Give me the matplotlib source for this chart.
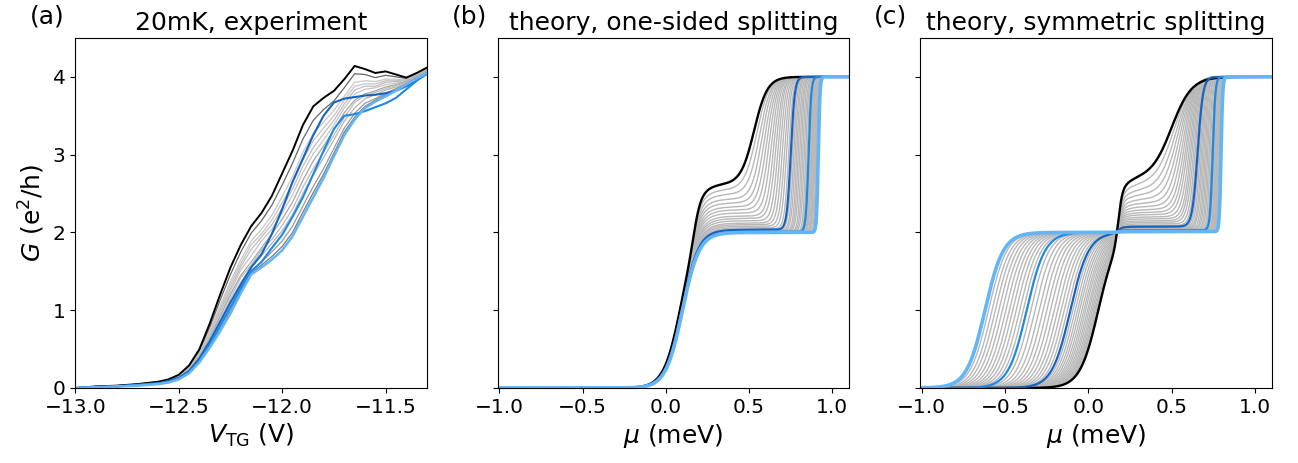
import numpy as np
import matplotlib
matplotlib.use("Agg")
import matplotlib.pyplot as plt

# ---- panel (a): measured curves, G in e^2/h vs top gate voltage
v_tg = [-13.0, -12.9, -12.8, -12.7, -12.6, -12.55, -12.5, -12.45, -12.4, -12.35,
        -12.3, -12.25, -12.2, -12.15, -12.1, -12.05, -12.0, -11.95, -11.9, -11.85,
        -11.8, -11.75, -11.7, -11.65, -11.6, -11.55, -11.5, -11.45, -11.4, -11.35, -11.3]

g_black = [0.00, 0.02, 0.03, 0.05, 0.08, 0.11, 0.17, 0.29, 0.50, 0.83,
           1.20, 1.55, 1.84, 2.08, 2.25, 2.47, 2.76, 3.05, 3.38, 3.62,
           3.73, 3.82, 3.97, 4.14, 4.10, 4.05, 4.07, 4.03, 3.99, 4.05, 4.12]
g_dark = [0.00, 0.01, 0.02, 0.04, 0.06, 0.09, 0.13, 0.22, 0.38, 0.60,
          0.85, 1.10, 1.33, 1.55, 1.72, 1.98, 2.30, 2.65, 2.95, 3.25,
          3.50, 3.67, 3.72, 3.74, 3.76, 3.77, 3.79, 3.82, 3.88, 3.96, 4.04]
g_mid = [0.00, 0.01, 0.02, 0.04, 0.06, 0.08, 0.12, 0.20, 0.35, 0.56,
         0.80, 1.04, 1.28, 1.50, 1.62, 1.80, 1.97, 2.20, 2.45, 2.75,
         3.05, 3.33, 3.50, 3.52, 3.56, 3.61, 3.66, 3.73, 3.84, 3.95, 4.04]
g_light = [0.00, 0.01, 0.02, 0.03, 0.05, 0.07, 0.11, 0.19, 0.33, 0.52,
           0.73, 0.96, 1.22, 1.46, 1.55, 1.65, 1.77, 1.95, 2.20, 2.45,
           2.70, 2.98, 3.25, 3.45, 3.60, 3.68, 3.75, 3.82, 3.90, 3.98, 4.05]

grey_a = [
    [0.00, 0.02, 0.03, 0.05, 0.08, 0.10, 0.16, 0.28, 0.47, 0.78,
     1.13, 1.46, 1.75, 1.99, 2.15, 2.35, 2.61, 2.89, 3.20, 3.44,
     3.58, 3.69, 3.86, 4.04, 4.03, 3.99, 4.02, 4.00, 3.98, 4.04, 4.11],
    [0.00, 0.02, 0.03, 0.04, 0.07, 0.10, 0.15, 0.26, 0.45, 0.74,
     1.06, 1.37, 1.65, 1.89, 2.04, 2.22, 2.46, 2.72, 3.03, 3.27,
     3.42, 3.57, 3.75, 3.93, 3.95, 3.94, 3.97, 3.97, 3.96, 4.03, 4.10],
    [0.00, 0.02, 0.03, 0.04, 0.07, 0.09, 0.15, 0.25, 0.44, 0.71,
     1.02, 1.33, 1.60, 1.84, 1.98, 2.16, 2.38, 2.63, 2.93, 3.18,
     3.34, 3.50, 3.70, 3.88, 3.91, 3.91, 3.95, 3.95, 3.96, 4.02, 4.09],
    [0.00, 0.02, 0.03, 0.04, 0.07, 0.09, 0.14, 0.25, 0.42, 0.69,
     0.99, 1.28, 1.56, 1.78, 1.94, 2.10, 2.31, 2.56, 2.85, 3.09,
     3.27, 3.44, 3.65, 3.83, 3.88, 3.88, 3.93, 3.94, 3.95, 4.02, 4.09],
    [0.00, 0.02, 0.03, 0.04, 0.06, 0.09, 0.14, 0.24, 0.41, 0.67,
     0.96, 1.24, 1.52, 1.70, 1.89, 2.04, 2.25, 2.48, 2.77, 3.01,
     3.19, 3.38, 3.60, 3.78, 3.84, 3.86, 3.90, 3.92, 3.94, 4.01, 4.08],
    [0.00, 0.01, 0.02, 0.04, 0.06, 0.09, 0.13, 0.23, 0.40, 0.64,
     0.92, 1.20, 1.45, 1.62, 1.80, 1.98, 2.17, 2.39, 2.67, 2.92,
     3.11, 3.32, 3.54, 3.70, 3.78, 3.82, 3.87, 3.90, 3.94, 4.01, 4.08],
    [0.00, 0.01, 0.02, 0.04, 0.06, 0.08, 0.13, 0.22, 0.38, 0.62,
     0.88, 1.15, 1.42, 1.58, 1.77, 1.91, 2.09, 2.30, 2.58, 2.82,
     3.03, 3.25, 3.48, 3.67, 3.76, 3.80, 3.85, 3.89, 3.93, 4.00, 4.07],
    [0.00, 0.01, 0.02, 0.04, 0.06, 0.08, 0.13, 0.22, 0.37, 0.60,
     0.85, 1.11, 1.36, 1.55, 1.70, 1.86, 2.02, 2.23, 2.50, 2.74,
     2.96, 3.19, 3.43, 3.60, 3.72, 3.77, 3.83, 3.87, 3.92, 4.00, 4.07],
    [0.00, 0.01, 0.02, 0.03, 0.05, 0.07, 0.12, 0.20, 0.35, 0.56,
     0.79, 1.03, 1.29, 1.51, 1.62, 1.75, 1.89, 2.08, 2.34, 2.59,
     2.82, 3.08, 3.34, 3.53, 3.66, 3.72, 3.79, 3.85, 3.91, 3.99, 4.06],
    [0.00, 0.01, 0.02, 0.03, 0.05, 0.07, 0.11, 0.20, 0.34, 0.54,
     0.75, 0.99, 1.25, 1.48, 1.58, 1.69, 1.82, 2.00, 2.26, 2.51,
     2.75, 3.02, 3.29, 3.48, 3.62, 3.70, 3.77, 3.83, 3.90, 3.98, 4.05],
]
grey_a_colors = ["#666666", "#c8c8c8", "#c4c4c4", "#bdbdbd", "#c4c4c4",
                 "#a6a6a6", "#bdbdbd", "#b5b5b5", "#999999", "#7a7a7a"]

# ---- panels (b), (c): theory curves, one entry per field value
# first plateau step centre, extra shoulder height, second step centre and width
b_c1 = [0.085, 0.086, 0.087, 0.088, 0.088, 0.089, 0.090, 0.090, 0.091, 0.092, 0.092, 0.093, 0.093, 0.094, 0.094, 0.095, 0.095,
        0.096, 0.096, 0.096, 0.097, 0.097, 0.097, 0.098, 0.098, 0.098, 0.098, 0.099, 0.099,
        0.099, 0.099, 0.099, 0.100, 0.100, 0.100, 0.100, 0.100, 0.100, 0.100, 0.100, 0.100]
b_a = [0.62, 0.55, 0.49, 0.43, 0.38, 0.33, 0.29, 0.25, 0.21, 0.18, 0.15, 0.12, 0.10, 0.08, 0.06, 0.045, 0.035,
       0.030, 0.027, 0.024, 0.021, 0.019, 0.017, 0.015, 0.013, 0.011, 0.010, 0.009, 0.008,
       0.007, 0.006, 0.006, 0.005, 0.005, 0.004, 0.004, 0.003, 0.003, 0.002, 0.002, 0.000]
b_c2 = [0.530, 0.546, 0.562, 0.577, 0.592, 0.606, 0.620, 0.634, 0.648, 0.661, 0.674, 0.687, 0.700, 0.713, 0.725, 0.738, 0.750,
        0.759, 0.768, 0.777, 0.786, 0.795, 0.804, 0.813, 0.822, 0.831, 0.840, 0.848, 0.857,
        0.862, 0.867, 0.872, 0.876, 0.881, 0.886, 0.891, 0.896, 0.901, 0.906, 0.910, 0.915]
b_w2 = [0.040, 0.037, 0.034, 0.031, 0.029, 0.027, 0.025, 0.023, 0.021, 0.020, 0.018, 0.017, 0.016, 0.015, 0.014, 0.013, 0.012,
        0.012, 0.011, 0.011, 0.010, 0.010, 0.010, 0.009, 0.009, 0.009, 0.008, 0.008, 0.008,
        0.008, 0.007, 0.007, 0.007, 0.006, 0.006, 0.006, 0.006, 0.005, 0.005, 0.005, 0.005]

c_c1 = [0.060, 0.054, 0.047, 0.040, 0.032, 0.024, 0.015, 0.005, -0.005, -0.016, -0.027, -0.039, -0.052, -0.065, -0.079, -0.093, -0.108,
        -0.126, -0.145, -0.164, -0.184, -0.205, -0.227, -0.249, -0.272, -0.295, -0.320, -0.345, -0.370,
        -0.391, -0.412, -0.433, -0.454, -0.474, -0.495, -0.516, -0.537, -0.558, -0.578, -0.599, -0.620]
c_a = [0.70, 0.62, 0.55, 0.49, 0.43, 0.38, 0.335, 0.295, 0.26, 0.23, 0.20, 0.175, 0.15, 0.13, 0.11, 0.09, 0.075,
       0.070, 0.065, 0.060, 0.055, 0.050, 0.046, 0.042, 0.038, 0.035, 0.032, 0.030, 0.028,
       0.026, 0.024, 0.022, 0.020, 0.018, 0.016, 0.015, 0.014, 0.013, 0.012, 0.011, 0.010]
c_c2 = [0.500, 0.512, 0.524, 0.535, 0.546, 0.557, 0.568, 0.578, 0.588, 0.597, 0.607, 0.616, 0.624, 0.633, 0.641, 0.649, 0.656,
        0.664, 0.671, 0.679, 0.686, 0.694, 0.701, 0.709, 0.716, 0.724, 0.731, 0.739, 0.746,
        0.750, 0.754, 0.759, 0.763, 0.767, 0.771, 0.775, 0.779, 0.784, 0.788, 0.792, 0.796]
c_w2 = [0.060, 0.054, 0.049, 0.044, 0.040, 0.036, 0.033, 0.030, 0.028, 0.026, 0.024, 0.022, 0.021, 0.020, 0.018, 0.017, 0.016,
        0.015, 0.014, 0.013, 0.013, 0.012, 0.011, 0.011, 0.010, 0.010, 0.009, 0.009, 0.008,
        0.008, 0.008, 0.007, 0.007, 0.007, 0.006, 0.006, 0.006, 0.006, 0.005, 0.005, 0.005]

# highlighted field values: black, dark blue, blue, light blue
highlight = {0: ("black", 1.7), 16: ("#1565c0", 1.6), 28: ("#1e88e5", 1.6), 40: ("#64b5f6", 2.6)}


def step(x, c, w):
    return 0.5 * (1 + np.tanh((x - c) / (2 * w)))


def theory(mu, c1, w1, a, ca, wa, c2, w2):
    return 2 * step(mu, c1, w1) + a * step(mu, ca, wa) + (2 - a) * step(mu, c2, w2)


fig = plt.figure(figsize=(12.98, 4.63), dpi=100)
ax_a = fig.add_axes([0.058, 0.162, 0.271, 0.756])
ax_b = fig.add_axes([0.3834, 0.162, 0.2707, 0.756])
ax_c = fig.add_axes([0.7088, 0.162, 0.2709, 0.756])

# panel a
for g, col in zip(grey_a, grey_a_colors):
    ax_a.plot(v_tg, g, color=col, lw=0.9)
ax_a.plot(v_tg, g_black, color="black", lw=1.4)
ax_a.plot(v_tg, g_dark, color="#1565c0", lw=1.5)
ax_a.plot(v_tg, g_mid, color="#1e88e5", lw=1.5)
ax_a.plot(v_tg, g_light, color="#64b5f6", lw=1.8)
ax_a.set_xlim(-13.0, -11.3)
ax_a.set_xticks([-13.0, -12.5, -12.0, -11.5])
ax_a.set_xlabel(r"$V_{\rm TG}$ (V)", fontsize=18)
ax_a.set_ylabel(r"$G$ (e$^2$/h)", fontsize=18)

mu = np.linspace(-1.01, 1.1, 3000)
for ax, c1s, w1, as_, ca, wa, c2s, w2s in [
        (ax_b, b_c1, 0.05, b_a, 0.17, 0.02, b_c2, b_w2),
        (ax_c, c_c1, 0.055, c_a, 0.18, 0.012, c_c2, c_w2)]:
    curves = [theory(mu, c1s[i], w1, as_[i], ca, wa, c2s[i], w2s[i]) for i in range(len(c1s))]
    for i, g in enumerate(curves):
        if i not in highlight:
            ax.plot(mu, g, color="#b8b8b8", lw=1.0)
    for i in sorted(highlight):
        col, lw = highlight[i]
        ax.plot(mu, curves[i], color=col, lw=lw)
    ax.set_xlim(-1.01, 1.1)
    ax.set_xticks([-1.0, -0.5, 0.0, 0.5, 1.0])
    ax.set_xlabel(r"$\mu$ (meV)", fontsize=18)
    ax.tick_params(labelleft=False)

titles = ["20mK, experiment", "theory, one-sided splitting", "theory, symmetric splitting"]
for ax, lab, title in zip([ax_a, ax_b, ax_c], ["(a)", "(b)", "(c)"], titles):
    ax.set_ylim(0, 4.5)
    ax.set_yticks([0, 1, 2, 3, 4])
    ax.tick_params(labelsize=14.5)
    ax.set_title(title, fontsize=18)
    ax.text(-0.13, 1.04, lab, transform=ax.transAxes, fontsize=18, ha="left", va="baseline")

fig.savefig("out.png", dpi=100)
